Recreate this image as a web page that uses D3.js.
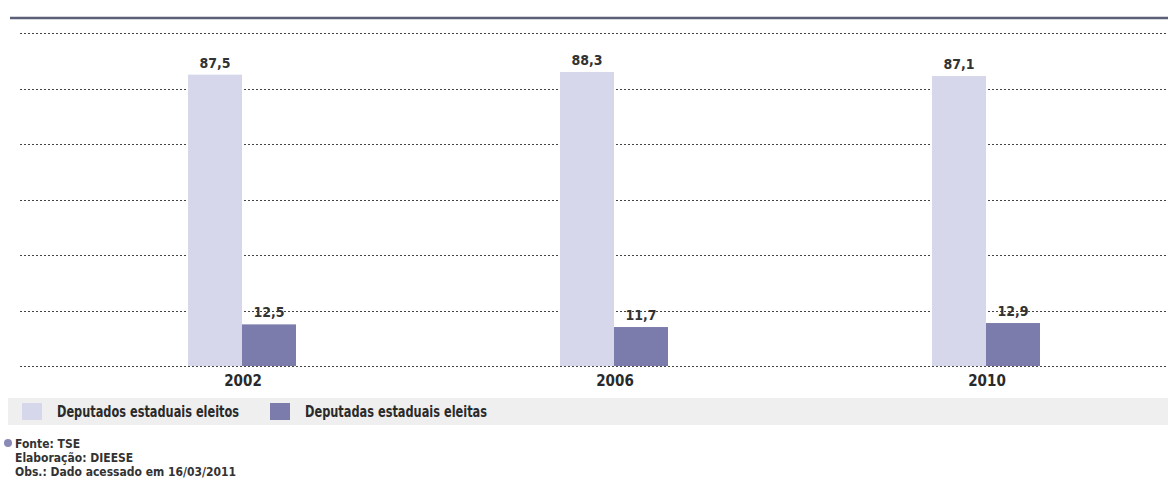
<!DOCTYPE html>
<html>
<head>
<meta charset="utf-8">
<script src="https://cdn.jsdelivr.net/npm/d3@7"></script>
<style>
  body { margin: 0; background: #fff; }
  text { font-family: "Liberation Sans Narrow", "DejaVu Sans Condensed", "Roboto", sans-serif; }
</style>
</head>
<body>
<div class="chart"></div>
<script>
const years = ["2002", "2006", "2010"]
const seriesNames = ["Deputados estaduais eleitos", "Deputadas estaduais eleitas"]
const eleitos = [87.5, 88.3, 87.1]
const eleitas = [12.5, 11.7, 12.9]
const gridTicks = [0, 100 / 6, 200 / 6, 50, 400 / 6, 500 / 6, 100]
const footNotes = ["Fonte: TSE", "Elaboração: DIEESE", "Obs.: Dado acessado em 16/03/2011"]

const width = 1168
const height = 481
const fmt = v => d3.format(".1f")(v).replace(".", ",")

const svg = d3.select(".chart")
    .append("svg")
    .attr("width", width)
    .attr("height", height)

const x0 = d3.scalePoint()
    .domain(years)
    .range([243, 987])

const x1 = d3.scaleBand()
    .domain(seriesNames)
    .range([-55, 53])

const y = d3.scaleLinear()
    .domain([0, 100])
    .range([366, 33])

const color = d3.scaleOrdinal()
    .domain(seriesNames)
    .range(["#d7d7ec", "#7b7bac"])

// top rule
svg.append("line")
    .attr("x1", 10).attr("x2", width)
    .attr("y1", 18).attr("y2", 18)
    .attr("stroke", "#5b6078")
    .attr("stroke-width", 2.5)

// dotted grid
svg.append("g")
    .selectAll("line")
    .data(gridTicks)
    .join("line")
    .attr("x1", 20).attr("x2", width)
    .attr("y1", d => Math.round(y(d)) + 0.5)
    .attr("y2", d => Math.round(y(d)) + 0.5)
    .attr("stroke", "#444")
    .attr("stroke-width", 1)
    .attr("stroke-dasharray", "2,2")

const rows = years.map((yr, i) => ({ year: yr, values: [eleitos[i], eleitas[i]] }))

const groups = svg.append("g")
    .selectAll("g")
    .data(rows)
    .join("g")
    .attr("transform", d => `translate(${x0(d.year)}, 0)`)

groups.selectAll("rect")
    .data(d => seriesNames.map((key, i) => ({ key, value: d.values[i] })))
    .join("rect")
    .attr("x", d => x1(d.key))
    .attr("y", d => y(d.value))
    .attr("width", x1.bandwidth())
    .attr("height", d => y(0) - y(d.value))
    .attr("fill", d => color(d.key))

groups.selectAll("text.val")
    .data(d => seriesNames.map((key, i) => ({ key, value: d.values[i] })))
    .join("text")
    .attr("class", "val")
    .attr("x", d => x1(d.key) + x1.bandwidth() / 2)
    .attr("y", d => y(d.value) - 7)
    .attr("text-anchor", "middle")
    .attr("font-size", 14)
    .attr("font-weight", "bold")
    .attr("fill", "#333")
    .text(d => fmt(d.value))

groups.append("text")
    .attr("x", 0)
    .attr("y", 386)
    .attr("text-anchor", "middle")
    .attr("font-size", 15)
    .attr("font-weight", "bold")
    .attr("fill", "#2a2a2a")
    .text(d => d.year)

// legend band
svg.append("rect")
    .attr("x", 8).attr("y", 398)
    .attr("width", width - 8).attr("height", 27)
    .attr("fill", "#efeff0")

const legend = svg.append("g")
    .selectAll("g")
    .data(seriesNames)
    .join("g")
    .attr("transform", (d, i) => `translate(${22 + i * 248}, 403)`)

legend.append("rect")
    .attr("width", 20).attr("height", 17)
    .attr("fill", d => color(d))

legend.append("text")
    .attr("x", 35)
    .attr("y", 14)
    .attr("font-size", 15)
    .attr("font-weight", "bold")
    .attr("fill", "#2a2a2a")
    .attr("textLength", 182)
    .attr("lengthAdjust", "spacingAndGlyphs")
    .text(d => d)

// source notes
svg.append("circle")
    .attr("cx", 8).attr("cy", 443)
    .attr("r", 4)
    .attr("fill", "#8a8ab8")

svg.append("g")
    .selectAll("text")
    .data(footNotes)
    .join("text")
    .attr("x", 15)
    .attr("y", (d, i) => 448 + i * 14)
    .attr("font-size", 12)
    .attr("font-weight", 600)
    .attr("fill", "#333")
    .text(d => d)
</script>
</body>
</html>
